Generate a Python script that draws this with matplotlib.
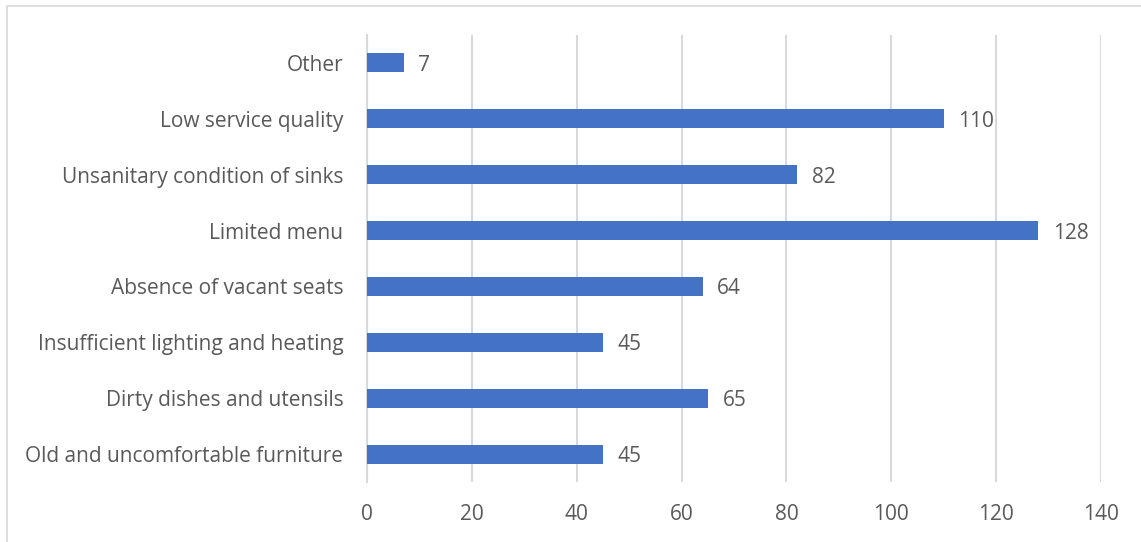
import matplotlib.pyplot as plt
from matplotlib.patches import Rectangle

categories = [
    "Old and uncomfortable furniture",
    "Dirty dishes and utensils",
    "Insufficient lighting and heating",
    "Absence of vacant seats",
    "Limited menu",
    "Unsanitary condition of sinks",
    "Low service quality",
    "Other",
]
counts = [45, 65, 45, 64, 128, 82, 110, 7]
x_ticks = [0, 20, 40, 60, 80, 100, 120, 140]

BAR_COLOR = "#4472C4"
TEXT_COLOR = "#595959"
GRID_COLOR = "#D9D9D9"

plt.rcParams["font.family"] = ["Open Sans", "DejaVu Sans"]

fig = plt.figure(figsize=(11.41, 5.42), dpi=100)
ax = fig.add_axes([0.3217, 0.1107, 0.9650 - 0.3217, 0.9354 - 0.1107])

positions = range(len(categories))
bars = ax.barh(positions, counts, height=0.34, color=BAR_COLOR, zorder=3)
for bar, value in zip(bars, counts):
    ax.text(bar.get_width() + 2.8, bar.get_y() + bar.get_height() / 2, str(value),
            va="center_baseline", ha="left", fontsize=15, color=TEXT_COLOR)

ax.set_xlim(0, 140)
ax.set_ylim(-0.5, len(categories) - 0.5)
ax.set_xticks(x_ticks)
ax.set_yticks(list(positions))
ax.set_yticklabels(categories)
ax.tick_params(axis="both", length=0, labelsize=15, labelcolor=TEXT_COLOR)
ax.tick_params(axis="y", pad=17)
ax.tick_params(axis="x", pad=16)
ax.grid(axis="x", color=GRID_COLOR, linewidth=1.5, zorder=0)
for side in ["top", "right", "bottom"]:
    ax.spines[side].set_visible(False)
ax.spines["left"].set_color(GRID_COLOR)
ax.spines["left"].set_linewidth(1.5)

fig.patches.append(Rectangle((6.5 / 1141, -0.05), 1.1, 1 - 5.5 / 542 + 0.05,
                             transform=fig.transFigure, fill=False,
                             edgecolor=GRID_COLOR, linewidth=1.2, clip_on=False))

fig.savefig("out.png", dpi=100)
